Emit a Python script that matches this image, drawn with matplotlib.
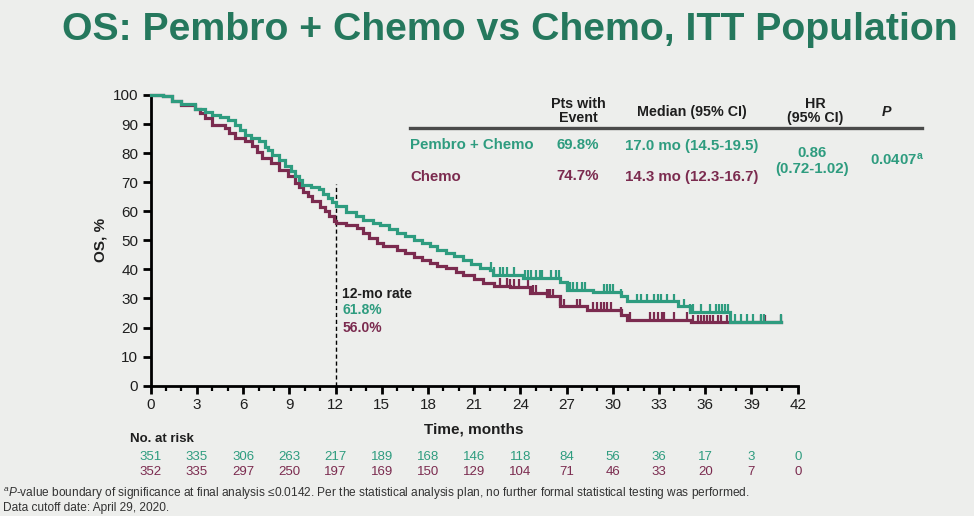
import matplotlib
matplotlib.use("Agg")
import matplotlib.pyplot as plt
import matplotlib.transforms as mtransforms
import numpy as np

plt.rcParams['font.family'] = ['Liberation Sans', 'DejaVu Sans']
plt.rcParams['mathtext.fontset'] = 'custom'
plt.rcParams['mathtext.rm'] = 'Liberation Sans'
plt.rcParams['mathtext.it'] = 'Liberation Sans:italic'
plt.rcParams['mathtext.bf'] = 'Liberation Sans:bold'

# ---- data ----
pembro_t = [0, 0.8, 1.4, 2.0, 2.9, 3.5, 4.0, 4.5, 5.0, 5.5, 5.8, 6.1, 6.5, 7.0, 7.4, 7.6,
            7.9, 8.3, 8.7, 9.1, 9.4, 9.6, 9.8, 10.4, 10.9, 11.2, 11.5, 11.8, 12.0, 12.7,
            13.3, 13.8, 14.4, 14.9, 15.5, 16.0, 16.5, 17.1, 17.6, 18.1, 18.6, 19.2,
            19.7, 20.3, 20.8, 21.4, 22.0, 22.2, 24.2, 26.6, 27.0, 28.7, 30.5, 30.9,
            34.2, 35.0, 37.6, 40.9]
pembro_s = [100, 99.5, 97.8, 96.8, 95.3, 94.3, 93.2, 92.3, 91.5, 89.8, 88.0, 86.4, 85.3,
            84.2, 82.0, 81.0, 79.5, 77.6, 75.6, 73.8, 72.2, 70.8, 69.2, 68.3, 67.5, 66.0,
            64.6, 63.2, 61.8, 59.9, 58.3, 57.0, 56.0, 55.3, 53.8, 52.5, 51.4, 50.2, 49.0,
            47.9, 46.8, 45.6, 44.5, 43.3, 41.9, 40.4, 39.9, 38.1, 37.1, 35.8, 33.0, 32.4,
            30.7, 29.0, 27.3, 25.5, 22.0, 22.0]

chemo_t = [0, 0.8, 1.4, 2.0, 2.9, 3.2, 3.5, 4.0, 4.8, 5.1, 5.5, 6.1, 6.6, 6.9, 7.2, 7.8,
           8.3, 8.9, 9.4, 9.65, 9.9, 10.2, 10.5, 11.0, 11.3, 11.6, 11.9, 12.0, 12.7,
           13.4, 13.8, 14.2, 14.7, 15.1, 16.0, 16.5, 17.1, 17.6, 18.1, 18.6, 19.2, 19.8,
           20.3, 21.0, 21.6, 22.3, 23.3, 24.6, 25.7, 26.6, 28.3, 30.5, 30.9, 35.1, 40.9]
chemo_s = [100, 99.5, 97.8, 96.5, 95.3, 93.8, 92.1, 89.8, 88.7, 87.0, 85.2, 84.1, 82.4,
           80.4, 78.4, 76.5, 74.3, 72.0, 69.8, 68.3, 66.8, 65.2, 63.5, 61.5, 60.0, 58.3,
           56.6, 56.0, 55.2, 54.2, 52.5, 50.8, 49.2, 47.9, 46.7, 45.6, 44.4, 43.3, 42.2,
           41.3, 40.4, 39.2, 38.1, 36.7, 35.3, 34.4, 34.1, 31.9, 30.7, 27.3, 26.1, 24.4,
           22.7, 21.8, 21.8]

pembro_censor = [22.1, 22.3, 22.7, 22.9, 23.1, 23.6, 24.3, 24.5, 24.7, 25.0, 25.3, 25.4,
                 26.0, 26.3, 26.5, 27.0, 27.2, 27.4, 27.7, 28.0, 28.2, 29.4, 29.6, 29.8,
                 30.0, 30.5, 31.6, 31.8, 32.2, 32.7, 32.9, 33.1, 33.5, 34.0, 34.6, 35.0,
                 35.2, 35.7, 36.3, 36.7, 36.9, 37.1, 37.3, 37.5, 37.9, 38.3, 38.7, 39.1,
                 39.6, 39.8, 40.9]
chemo_censor = [22.7, 23.1, 23.3, 23.6, 23.9, 24.5, 24.8, 25.0, 25.7, 25.8, 25.9, 26.1,
                26.6, 26.8, 27.7, 27.9, 28.7, 29.0, 29.2, 29.4, 29.6, 29.9, 30.5, 31.1,
                32.4, 32.7, 32.9, 33.2, 33.3, 34.0, 34.8, 35.2, 35.5, 35.7, 35.9, 36.1,
                36.3, 36.5, 36.8, 37.0, 37.4, 39.6, 39.9, 40.9]

risk_times = [0, 3, 6, 9, 12, 15, 18, 21, 24, 27, 30, 33, 36, 39, 42]
risk_pembro = [351, 335, 306, 263, 217, 189, 168, 146, 118, 84, 56, 36, 17, 3, 0]
risk_chemo = [352, 335, 297, 250, 197, 169, 150, 129, 104, 71, 46, 33, 20, 7, 0]

rate_12 = ["61.8%", "56.0%"]

# ---- style ----
BG = '#EDEEEC'
TEAL = '#2E9C7F'
MAROON = '#7B2B4F'
TITLE_GREEN = '#25785D'
DARK = '#1E1E1E'

fig = plt.figure(figsize=(9.74, 5.16), dpi=100, facecolor=BG)
fig.text(0.523, 0.942, "OS: Pembro + Chemo vs Chemo, ITT Population",
         ha='center', va='center', fontsize=28.3, fontweight='bold',
         color=TITLE_GREEN)

ax = fig.add_axes([0.1547, 0.2525, 0.6643, 0.5634])
ax.set_facecolor(BG)


def step_value(ts, ss, x):
    i = np.searchsorted(ts, x, side='right') - 1
    return np.asarray(ss)[i]


for ts, ss, cens, col, z in [(chemo_t, chemo_s, chemo_censor, MAROON, 3),
                             (pembro_t, pembro_s, pembro_censor, TEAL, 4)]:
    ax.plot(ts, ss, drawstyle='steps-post', color=col, lw=2.3, zorder=z,
            clip_on=False, solid_joinstyle='miter')
    cy = step_value(ts, ss, np.array(cens))
    ax.vlines(cens, cy, cy + 2.6, color=col, lw=1.6, zorder=z)

# 12-month marker
ax.vlines(12, 0, 69.5, color='black', lw=1.0, linestyles=(0, (3, 2)), zorder=2)
ax.text(12.45, 31.6, "12-mo rate", color=DARK, fontsize=10, fontweight='bold',
        va='center', ha='left')
ax.text(12.45, 25.9, rate_12[0], color=TEAL, fontsize=10, fontweight='bold',
        va='center', ha='left')
ax.text(12.45, 20.0, rate_12[1], color=MAROON, fontsize=10, fontweight='bold',
        va='center', ha='left')

ax.set_xlim(0, 42)
ax.set_ylim(0, 100)
ax.set_xticks(risk_times)
ax.set_xticks(np.arange(0, 43, 1), minor=True)
ax.set_yticks(np.arange(0, 101, 10))
for s in ['top', 'right']:
    ax.spines[s].set_visible(False)
for s in ['left', 'bottom']:
    ax.spines[s].set_linewidth(2.0)
    ax.spines[s].set_color('black')
ax.tick_params(axis='both', which='major', length=6, width=2.0, color='black',
               labelsize=11, labelcolor=DARK, pad=3)
ax.tick_params(axis='x', which='minor', length=3.5, width=1.6, color='black')

fig.text(0.1027, 0.535, "OS, %", rotation=90, ha='center', va='center',
         fontsize=11, fontweight='bold', color=DARK)
fig.text(0.486, 0.167, "Time, months", ha='center', va='center',
         fontsize=11, fontweight='bold', color=DARK)

# number at risk
fig.text(0.1335, 0.149, "No. at risk", ha='left', va='center', fontsize=9.5,
         fontweight='bold', color=DARK)
trans = mtransforms.blended_transform_factory(ax.transData, fig.transFigure)
for t, a, b in zip(risk_times, risk_pembro, risk_chemo):
    ax.text(t, 0.1143, str(a), transform=trans, ha='center', va='center',
            fontsize=9.5, color=TEAL, clip_on=False)
    ax.text(t, 0.0853, str(b), transform=trans, ha='center', va='center',
            fontsize=9.5, color=MAROON, clip_on=False)

# summary table
def px(x, y):
    return x / 974, 1 - y / 516


hdr = dict(ha='center', va='center', fontsize=10.3, fontweight='bold', color=DARK,
           linespacing=0.95)
fig.text(*px(578, 111), "Pts with\nEvent", **hdr)
fig.text(*px(692, 112), "Median (95% CI)", **hdr)
fig.text(*px(815, 111), "HR\n(95% CI)", **hdr)
fig.text(*px(887, 112), "P", fontstyle='italic', **hdr)
fig.add_artist(plt.Line2D([410 / 974, 922 / 974], [1 - 128 / 516] * 2,
                          color='#4A4A4A', lw=2.4))

row = dict(va='center', fontsize=10.8, fontweight='bold')
fig.text(*px(410, 145), "Pembro + Chemo", ha='left', color=TEAL, **row)
fig.text(*px(578, 145), "69.8%", ha='center', color=TEAL, **row)
fig.text(*px(692, 146), "17.0 mo (14.5-19.5)", ha='center', color=TEAL, **row)
fig.text(*px(410, 177), "Chemo", ha='left', color=MAROON, **row)
fig.text(*px(578, 176), "74.7%", ha='center', color=MAROON, **row)
fig.text(*px(692, 177), "14.3 mo (12.3-16.7)", ha='center', color=MAROON, **row)
fig.text(*px(812, 161), "0.86\n(0.72-1.02)", ha='center', color=TEAL,
         linespacing=1.1, **row)
fig.text(*px(897, 160), "0.0407$^{\\mathbf{a}}$", ha='center', color=TEAL, **row)

# footnotes
foot = dict(ha='left', va='center', fontsize=8.6, color='#333333')
fig.text(*px(3, 494), "$^{a}$$\\mathit{P}$-value boundary of significance at final analysis "
         "≤0.0142. Per the statistical analysis plan, no further formal statistical "
         "testing was performed.", **foot)
fig.text(*px(3, 508), "Data cutoff date: April 29, 2020.", **foot)

fig.savefig("out.png", dpi=100, facecolor=BG)
